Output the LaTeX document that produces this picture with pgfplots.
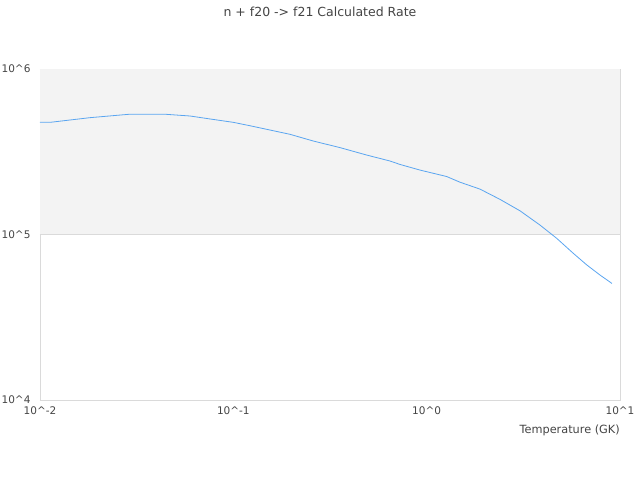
\documentclass[border=0pt]{standalone}
\usepackage{pgfplots}
\pgfplotsset{compat=1.18}
\usepackage{fontspec}
\setmainfont{DejaVu Sans}
\definecolor{linec}{RGB}{90,165,240}
\definecolor{bandc}{RGB}{243,243,243}
\definecolor{gridc}{RGB}{218,218,218}
\definecolor{txtc}{RGB}{68,68,68}
\begin{document}
\begin{tikzpicture}[x=1pt,y=1pt]
\path[use as bounding box] (0,0) rectangle (640,480);
\node[text=txtc,font=\fontsize{12.5}{14}\selectfont] at (320,468) {n + f20 -> f21 Calculated Rate};
\begin{axis}[
  at={(40pt,80pt)}, anchor=south west,
  scale only axis, width=580pt, height=331pt,
  xmode=log, ymode=log,
  xmin=0.01, xmax=10, ymin=1e4, ymax=1e6,
  axis line style={gridc, line width=0.8pt},
  major tick length=0pt,
  xtick={0.01,0.1,1,10}, xticklabels={10\textasciicircum-2,10\textasciicircum-1,10\textasciicircum0,10\textasciicircum1},
  ytick={1e4,1e5,1e6}, yticklabels={10\textasciicircum4,10\textasciicircum5,10\textasciicircum6},
  ticklabel style={text=txtc, font=\fontsize{10.5}{12}\selectfont},
  xticklabel style={yshift=-3pt},
  yticklabel style={anchor=east, xshift=-6pt},
  ymajorgrids, grid style={gridc, line width=0.8pt},
  minor tick num=0, xminorticks=false, yminorticks=false,
  clip=false,
]
\addplot[draw=none, fill=bandc, forget plot] coordinates {(0.01,1e5) (10,1e5) (10,1e6) (0.01,1e6)} -- cycle;
\addplot[linec, line width=0.8pt, no marks] coordinates {
(0.01,4.76e5) (0.01127,4.76e5) (0.01814,5.08e5) (0.02861,5.32e5) (0.04521,5.32e5)
(0.0530,5.25e5) (0.0597,5.20e5) (0.0757,4.99e5) (0.1,4.76e5) (0.122,4.54e5)
(0.1488,4.32e5) (0.1964,4.03e5) (0.2593,3.67e5) (0.356,3.35e5) (0.4895,3.02e5)
(0.646,2.78e5) (0.728,2.65e5) (0.924,2.45e5) (1.269,2.24e5) (1.487,2.07e5)
(1.888,1.88e5) (2.395,1.63e5) (3.040,1.39e5) (3.857,1.14e5) (4.706,9.48e4)
(5.71,7.73e4) (6.73,6.55e4) (7.88,5.69e4) (9.09,5.06e4)
};
\end{axis}
\node[anchor=east,text=txtc,font=\fontsize{11.3}{13}\selectfont,inner xsep=0pt] at (620,49.5) {Temperature (GK)};
\end{tikzpicture}
\end{document}
